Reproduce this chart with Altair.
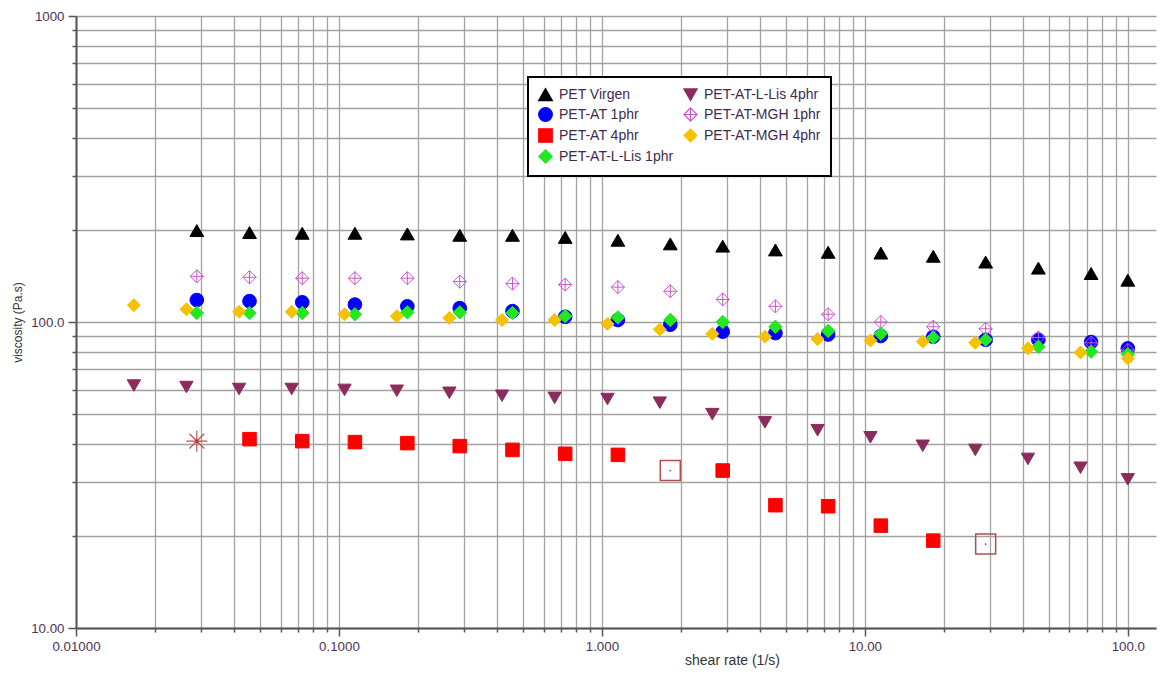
import altair as alt
import pandas as pd

# ---------------- data ----------------
rate_a = [0.0288, 0.0457, 0.0725, 0.115, 0.182, 0.288, 0.457, 0.725, 1.15, 1.82,
          2.88, 4.57, 7.25, 11.5, 18.2, 28.8, 45.7, 72.5, 100.0]
rate_b = [0.0166, 0.0263, 0.0417, 0.0661, 0.105, 0.166, 0.263, 0.417, 0.661, 1.05,
          1.66, 2.63, 4.17, 6.61, 10.5, 16.6, 26.3, 41.7, 66.1, 100.0]

visc_virgen = [199, 196, 195, 195, 194, 192, 192, 189, 185, 180, 177, 172, 169, 168,
               164, 157, 150, 144, 137]
visc_at1 = [118, 117, 116, 114, 112.5, 111, 108.5, 104, 101.5, 98, 93, 92, 91, 90,
            89.5, 87.5, 87.5, 86, 82]
visc_at4 = [40.8, 41.4, 40.8, 40.5, 40.2, 39.3, 38.2, 37.1, 36.8, 32.7, 32.7, 25.2,
            25.0, 21.6, 19.3, 18.8]
at4_star_idx = [0]
at4_open_idx = [9, 15]
visc_llis1 = [107, 107, 107, 106, 107.5, 107.5, 107, 104.5, 103.5, 101.5, 100, 96.5,
              93.5, 91.5, 89, 87.5, 83, 80, 78.5]
visc_llis4 = [62, 61.3, 60.4, 60.4, 60, 59.6, 58.7, 57.4, 56.5, 56, 54.5, 50, 47,
              44.3, 42, 39.4, 38.2, 35.7, 33.4, 30.6]
visc_mgh1 = [141, 140, 139, 139, 139, 135.5, 133.5, 132.5, 130, 126, 118.5, 112.5,
             106, 100, 96.5, 95, 89, 85.5, 81]
visc_mgh4 = [113.5, 110, 108, 108, 106, 104.5, 103, 101.5, 101.5, 98.5, 94.5, 91.5,
             89.5, 88, 87, 86.3, 85.6, 82, 79.5, 76]

S_VIR = "PET Virgen"
S_AT1 = "PET-AT 1phr"
S_AT4 = "PET-AT 4phr"
S_LL1 = "PET-AT-L-Lis 1phr"
S_LL4 = "PET-AT-L-Lis 4phr"
S_MG1 = "PET-AT-MGH 1phr"
S_MG4 = "PET-AT-MGH 4phr"

# ---------------- table ----------------
rows = []


def add(name, xs, ys, skip=()):
    for i, (x, y) in enumerate(zip(xs, ys)):
        if i in skip:
            continue
        rows.append({"series": name, "rate": x, "visc": y})


add(S_VIR, rate_a, visc_virgen)
add(S_AT1, rate_a, visc_at1)
add(S_MG1, rate_a, visc_mgh1)
add(S_LL1, rate_a, visc_llis1)
add(S_MG4, rate_b, visc_mgh4)
add(S_LL4, rate_b, visc_llis4)
add(S_AT4, rate_a, visc_at4, skip=set(at4_star_idx) | set(at4_open_idx))
df = pd.DataFrame(rows)

star_df = pd.DataFrame({"rate": [rate_a[i] for i in at4_star_idx],
                        "visc": [visc_at4[i] for i in at4_star_idx]})
open_df = pd.DataFrame({"rate": [rate_a[i] for i in at4_open_idx],
                        "visc": [visc_at4[i] for i in at4_open_idx]})

# legend order (filled column by column, two columns)
legend_order = [S_VIR, S_AT1, S_AT4, S_LL1, S_LL4, S_MG1, S_MG4]
style = {
    S_VIR: ("#000000", "#000000", "triangle-up", 190),
    S_LL4: ("#8b2c5c", "#8b2c5c", "triangle-down", 200),
    S_AT1: ("#0000ff", "#0000ff", "circle", 170),
    S_MG1: ("transparent", "#cc55cc", "M0,-1L1,0L0,1L-1,0Z M0,-1L0,1 M-1,0L1,0", 200),
    S_AT4: ("#ff0000", "#ff0000", "square", 155),
    S_MG4: ("#f5c200", "#f5c200", "diamond", 175),
    S_LL1: ("#22e822", "#22e822", "diamond", 175),
}
fill_range = [style[s][0] for s in legend_order]
stroke_range = [style[s][1] for s in legend_order]
shape_range = [style[s][2] for s in legend_order]
size_range = [style[s][3] for s in legend_order]

# ---------------- axes ----------------
x_ticks = [m * 10.0 ** e for e in range(-2, 3) for m in range(1, 10) if m * 10.0 ** e <= 128]
y_ticks = [m * 10.0 ** e for e in range(1, 3) for m in range(1, 10)] + [1000.0]

MAJ = "abs(log(datum.value)/LN10 - round(log(datum.value)/LN10)) < 1e-6"
LBL = MAJ + " ? format(datum.value, '.4r') : ''"
LABEL_COLOR = "#4d3358"
FONT = "Liberation Sans"

common_axis = dict(
    labelExpr=LBL,
    tickSize={"condition": {"test": MAJ, "value": 8}, "value": 4},
    tickColor="#555555", tickWidth=1.5,
    domainColor="#555555", domainWidth=2,
    grid=True, gridColor="#a2a2a2", gridWidth=1.3,
    labelFont=FONT, labelFontSize=13.3, labelColor=LABEL_COLOR,
    labelOverlap=False, labelFlush=False,
    titleFont=FONT, titleFontWeight="normal", titleColor="#333333",
)
x_axis = alt.Axis(values=x_ticks, labelPadding=3, titleFontSize=14,
                  titleX=656, titleY=25, titleBaseline="top", **common_axis)
y_axis = alt.Axis(values=y_ticks, labelPadding=4, titlePadding=6,
                  titleFontSize=12, **common_axis)

sx = alt.Scale(type="log", domain=[0.01, 128], nice=False)
sy = alt.Scale(type="log", domain=[10, 1000], nice=False)

x_enc = alt.X("rate:Q", scale=sx, axis=x_axis, title="shear rate (1/s)")
y_enc = alt.Y("visc:Q", scale=sy, axis=y_axis, title="viscosity (Pa.s)")

leg = alt.Legend(
    title=None, orient="none", legendX=452, legendY=61, columns=2,
    columnPadding=7, rowPadding=2, padding=10,
    labelFont=FONT, labelFontSize=14, labelColor="#3d2a4d", labelOffset=6,
    symbolStrokeWidth=1.2,
    fillColor="white",
)

points = alt.Chart(df).mark_point(filled=True, opacity=1, strokeWidth=1).encode(
    x=x_enc,
    y=y_enc,
    fill=alt.Fill("series:N", scale=alt.Scale(domain=legend_order, range=fill_range), legend=leg),
    stroke=alt.Stroke("series:N", scale=alt.Scale(domain=legend_order, range=stroke_range), legend=leg),
    shape=alt.Shape("series:N", scale=alt.Scale(domain=legend_order, range=shape_range), legend=leg),
    size=alt.Size("series:N", scale=alt.Scale(domain=legend_order, range=size_range), legend=leg),
)

STAR = "M-1,0L1,0M0,-1L0,1M-0.7,-0.7L0.7,0.7M-0.7,0.7L0.7,-0.7"
star = alt.Chart(star_df).mark_point(
    shape=STAR, filled=False, stroke="#c05050", strokeWidth=1.2, size=440, opacity=1
).encode(x=x_enc, y=y_enc)
star_dot = alt.Chart(star_df).mark_point(
    shape="circle", filled=True, color="#e02020", size=10, opacity=1
).encode(x=x_enc, y=y_enc)
open_sq = alt.Chart(open_df).mark_point(
    shape="square", filled=False, stroke="#b05050", strokeWidth=1.5, size=400, opacity=1
).encode(x=x_enc, y=y_enc)
open_dot = alt.Chart(open_df).mark_point(
    shape="circle", filled=True, color="#a04040", size=3, opacity=1
).encode(x=x_enc, y=y_enc)

chart = alt.layer(points, star, star_dot, open_sq, open_dot).properties(
    width=1080, height=612,
    padding={"left": 68, "top": 8, "right": 2, "bottom": 40},
    autosize=alt.AutoSizeParams(type="none"),
    background="white",
).configure_view(stroke=None).configure_legend(
    strokeColor="black", strokeWidth=2
)

chart.save("out.html", embed_options={"renderer": "svg", "actions": False})
